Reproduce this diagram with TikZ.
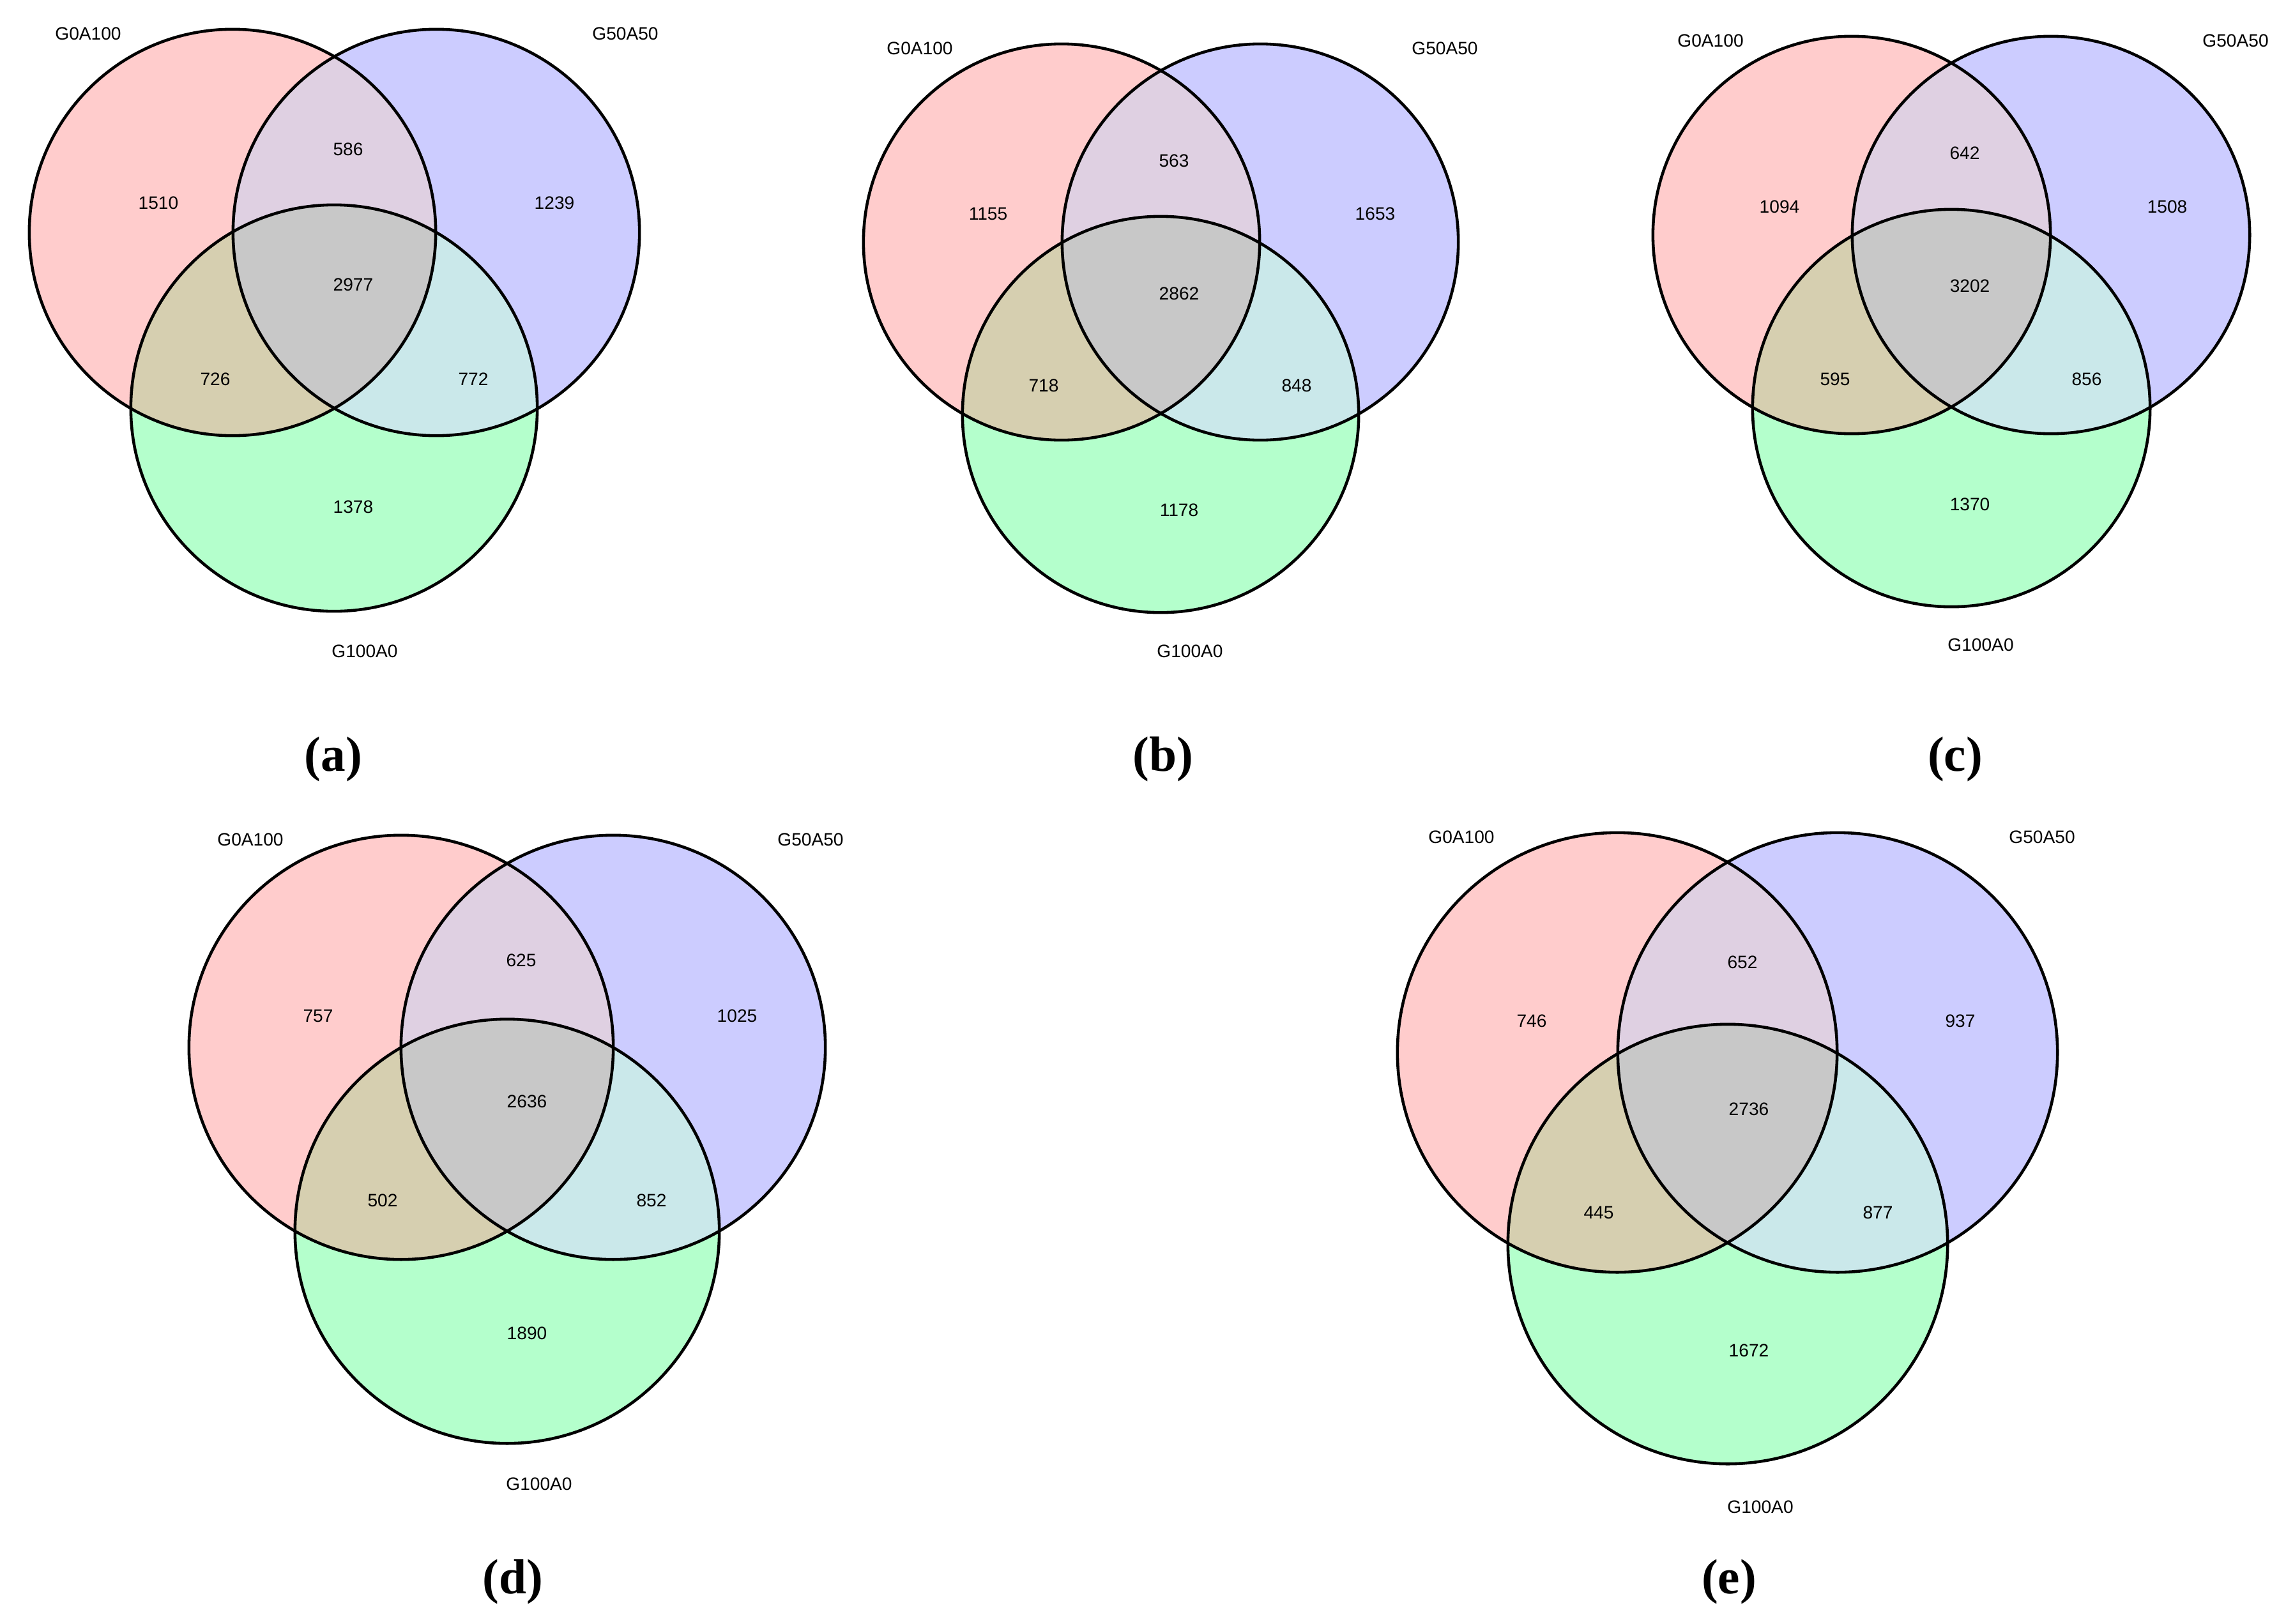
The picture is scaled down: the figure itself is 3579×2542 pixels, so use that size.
\documentclass[tikz,border=0pt]{standalone}
\usepackage{fontspec}
\setmainfont{Liberation Serif}
\newfontfamily\vennfont{Liberation Sans}
\usepackage{tikz}
\usetikzlibrary{positioning}
\definecolor{redset}{RGB}{255,204,204}
\definecolor{blueset}{RGB}{204,204,255}
\definecolor{greenset}{RGB}{180,255,204}
\definecolor{rbset}{RGB}{223,208,226}
\definecolor{rgset}{RGB}{214,207,176}
\definecolor{bgset}{RGB}{202,232,234}
\definecolor{rbgset}{RGB}{200,200,200}

% fills and rings of one three-set diagram: red centre, blue centre, green centre, radius
\newcommand{\venntri}[4]{%
	\fill[redset] #1 circle (#4);
	\fill[blueset] #2 circle (#4);
	\fill[greenset] #3 circle (#4);
	\begin{scope} \clip #1 circle (#4); \fill[rbset] #2 circle (#4); \end{scope}
	\begin{scope} \clip #1 circle (#4); \fill[rgset] #3 circle (#4); \end{scope}
	\begin{scope} \clip #2 circle (#4); \fill[bgset] #3 circle (#4); \end{scope}
	\begin{scope} \clip #1 circle (#4); \clip #2 circle (#4); \fill[rbgset] #3 circle (#4); \end{scope}
	\draw[ring] #1 circle (#4);
	\draw[ring] #2 circle (#4);
	\draw[ring] #3 circle (#4);
}

\begin{document}
\begin{tikzpicture}[x=0.01cm, y=-0.01cm]
			\tikzstyle{ring}=[draw=black, line width=1.3pt]
			\tikzstyle{num}=[font=\vennfont\fontsize{8}{9}\selectfont, inner sep=0pt]
			\tikzstyle{setname}=[font=\vennfont\fontsize{8}{9}\selectfont, inner sep=0pt]
			\tikzstyle{panel}=[font=\bfseries\fontsize{22}{26}\selectfont, inner sep=0pt]
			
			\useasboundingbox (0,0) rectangle (3579,2542);
			
			% (a)
			\venntri{(364,364)}{(683,364)}{(523,639)}{3.18cm}
			\node[setname] at (138,53) (ra) {G0A100};
			\node[setname] at (979,53) (ba) {G50A50};
			\node[setname] at (571,1020) (ga) {G100A0};
			\node[num] at (248,318) (a1) {1510};
			\node[num] at (545,234) (a2) {586};
			\node[num] at (868,318) (a3) {1239};
			\node[num] at (553,446) (a4) {2977};
			\node[num] at (337,594) (a5) {726};
			\node[num] at (741,594) (a6) {772};
			\node[num] at (553,794) (a7) {1378};
			\node[panel] at (522,1189) (pa) {(a)};
			
			% (b)
			\venntri{(1662,379)}{(1973,379)}{(1817,649)}{3.10cm}
			\node[setname] at (1440,76) (rb) {G0A100};
			\node[setname] at (2262,76) (bb) {G50A50};
			\node[setname] at (1863,1020) (gb) {G100A0};
			\node[num] at (1547,335) (b1) {1155};
			\node[num] at (1838,252) (b2) {563};
			\node[num] at (2153,335) (b3) {1653};
			\node[num] at (1846,460) (b4) {2862};
			\node[num] at (1634,604) (b5) {718};
			\node[num] at (2030,604) (b6) {848};
			\node[num] at (1846,799) (b7) {1178};
			\node[panel] at (1821,1189) (pb) {(b)};
			
			% (c)
			\venntri{(2899,368)}{(3211,368)}{(3055,639)}{3.11cm}
			\node[setname] at (2678,64) (rc) {G0A100};
			\node[setname] at (3500,64) (bc) {G50A50};
			\node[setname] at (3101,1010) (gc) {G100A0};
			\node[num] at (2786,324) (c1) {1094};
			\node[num] at (3076,240) (c2) {642};
			\node[num] at (3393,324) (c3) {1508};
			\node[num] at (3084,448) (c4) {3202};
			\node[num] at (2873,594) (c5) {595};
			\node[num] at (3267,594) (c6) {856};
			\node[num] at (3084,790) (c7) {1370};
			\node[panel] at (3061,1189) (pc) {(c)};
			
			% (d)
			\venntri{(628,1640)}{(960,1640)}{(794,1928)}{3.32cm}
			\node[setname] at (392,1315) (rd) {G0A100};
			\node[setname] at (1269,1315) (bd) {G50A50};
			\node[setname] at (844,2324) (gd) {G100A0};
			\node[num] at (498,1591) (d1) {757};
			\node[num] at (816,1504) (d2) {625};
			\node[num] at (1154,1591) (d3) {1025};
			\node[num] at (825,1725) (d4) {2636};
			\node[num] at (599,1880) (d5) {502};
			\node[num] at (1020,1880) (d6) {852};
			\node[num] at (825,2088) (d7) {1890};
			\node[panel] at (803,2477) (pd) {(d)};
			
			% (e)
			\venntri{(2532,1648)}{(2877,1648)}{(2705,1948)}{3.44cm}
			\node[setname] at (2288,1311) (re) {G0A100};
			\node[setname] at (3197,1311) (be) {G50A50};
			\node[setname] at (2756,2360) (ge) {G100A0};
			\node[num] at (2398,1599) (e1) {746};
			\node[num] at (2728,1507) (e2) {652};
			\node[num] at (3069,1599) (e3) {937};
			\node[num] at (2738,1737) (e4) {2736};
			\node[num] at (2503,1899) (e5) {445};
			\node[num] at (2940,1899) (e6) {877};
			\node[num] at (2738,2115) (e7) {1672};
			\node[panel] at (2707,2477) (pe) {(e)};
\end{tikzpicture}
\end{document}
